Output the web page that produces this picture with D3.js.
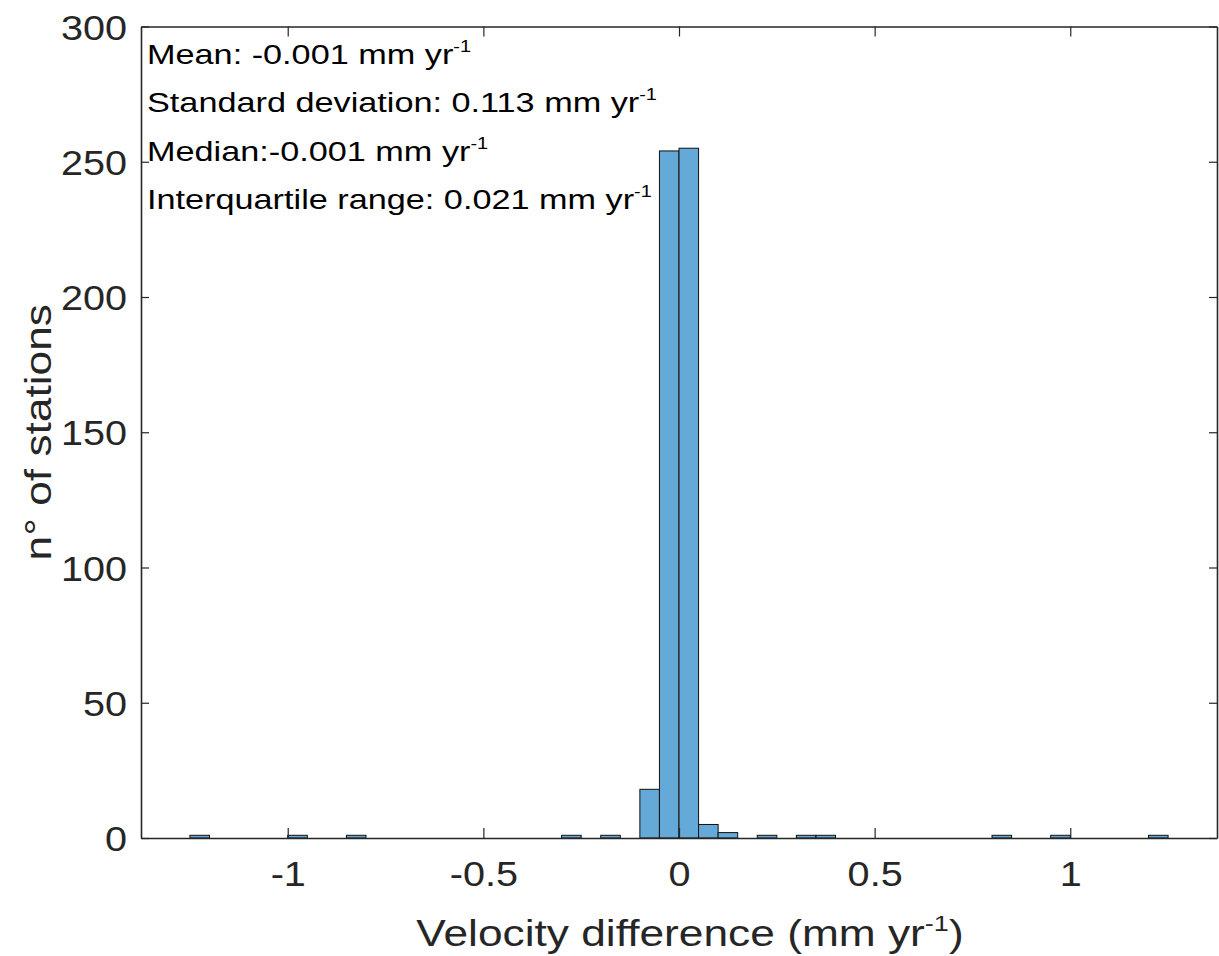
<!DOCTYPE html>
<html>
<head>
<meta charset="utf-8">
<script src="https://cdn.jsdelivr.net/npm/d3@7"></script>
<style>
  html, body { margin: 0; padding: 0; background: #ffffff; }
  svg { display: block; }
  text { font-family: "Liberation Sans", Arial, Helvetica, sans-serif; }
</style>
</head>
<body>
<svg id="chart" width="1219" height="956"></svg>
<script>
// ---- Data ----
const binLeftEdges = [-1.25,-1.2,-1.15,-1.1,-1.05,-1.0,-0.95,-0.9,-0.85,-0.8,
  -0.75,-0.7,-0.65,-0.6,-0.55,-0.5,-0.45,-0.4,-0.35,-0.3,
  -0.25,-0.2,-0.15,-0.1,-0.05,0.0,0.05,0.1,0.15,0.2,
  0.25,0.3,0.35,0.4,0.45,0.5,0.55,0.6,0.65,0.7,
  0.75,0.8,0.85,0.9,0.95,1.0,1.05,1.1,1.15,1.2];
const binWidth = 0.05;
const binCounts = [1,0,0,0,0,1,0,0,1,0,
  0,0,0,0,0,0,0,0,0,1,
  0,1,0,18,254,255,5,2,0,1,
  0,1,1,0,0,0,0,0,0,0,
  0,1,0,0,1,0,0,0,0,1];
const xTicks = [-1, -0.5, 0, 0.5, 1];
const xTickLabels = ["-1", "-0.5", "0", "0.5", "1"];
const yTicks = [0, 50, 100, 150, 200, 250, 300];
const xDomain = [-1.375, 1.375];
const yDomain = [0, 300];
const statLines = [
  {label: "Mean: -0.001 mm yr", sup: "-1"},
  {label: "Standard deviation: 0.113 mm yr", sup: "-1"},
  {label: "Median:-0.001 mm yr", sup: "-1"},
  {label: "Interquartile range: 0.021 mm yr", sup: "-1"}
];
const xLabel = "Velocity difference (mm yr";
const xLabelSup = "-1";
const xLabelEnd = ")";
const yLabel = "n° of stations";

// ---- Layout ----
const svg = d3.select("#chart");
const pLeft = 141, pRight = 1217, pTop = 26.5, pBottom = 838;
const axisColor = "#262626";
const tickFont = 36, tickStretch = 1.1;
const labelFont = 36, labelStretch = 1.23;
const annFont = 27.5, annStretch = 1.245;

const x = d3.scaleLinear().domain(xDomain).range([pLeft, pRight]);
const y = d3.scaleLinear().domain(yDomain).range([pBottom, pTop]);

const bins = binLeftEdges.map((e, i) => ({x0: e, x1: e + binWidth, n: binCounts[i]}));

// bars
svg.append("g").selectAll("rect").data(bins).join("rect")
  .attr("x", d => x(d.x0))
  .attr("width", d => x(d.x1) - x(d.x0))
  .attr("y", d => y(d.n))
  .attr("height", d => y(0) - y(d.n))
  .attr("fill", "#64a9d7")
  .attr("stroke", "#111")
  .attr("stroke-width", 1);

// axes (MATLAB-style box with inward ticks)
const xAxisB = d3.axisBottom(x).tickValues(xTicks).tickFormat((d, i) => xTickLabels[i])
  .tickSizeInner(-10).tickSizeOuter(0).tickPadding(22);
const gxb = svg.append("g").attr("transform", `translate(0,${pBottom})`).call(xAxisB);
const xAxisT = d3.axisTop(x).tickValues(xTicks).tickFormat("").tickSizeInner(-10).tickSizeOuter(0);
const gxt = svg.append("g").attr("transform", `translate(0,${pTop})`).call(xAxisT);
const yAxisL = d3.axisLeft(y).tickValues(yTicks).tickFormat(d3.format("d"))
  .tickSizeInner(-8).tickSizeOuter(0).tickPadding(14);
const gyl = svg.append("g").attr("transform", `translate(${pLeft},0)`).call(yAxisL);
const yAxisR = d3.axisRight(y).tickValues(yTicks).tickFormat("").tickSizeInner(-8).tickSizeOuter(0);
const gyr = svg.append("g").attr("transform", `translate(${pRight},0)`).call(yAxisR);

[gxb, gxt, gyl, gyr].forEach(g => {
  g.selectAll("path.domain").attr("stroke", axisColor).attr("stroke-width", 1.6);
  g.selectAll(".tick line").attr("stroke", axisColor).attr("stroke-width", 1.2);
  g.selectAll(".tick text").attr("fill", axisColor).attr("font-size", tickFont)
    .attr("font-family", "'Liberation Sans', Arial, sans-serif")
    .attr("transform", `scale(${tickStretch},1)`);
});
gxb.selectAll(".tick text").attr("dy", "0.71em");
gyl.selectAll(".tick text").attr("dy", "0.35em").attr("x", -14 / tickStretch);

// axis labels
const xl = svg.append("text")
  .attr("transform", `translate(690,946) scale(${labelStretch},1)`)
  .attr("text-anchor", "middle").attr("fill", axisColor).attr("font-size", labelFont);
xl.append("tspan").text(xLabel);
xl.append("tspan").attr("font-size", 22).attr("dy", -15).text(xLabelSup);
xl.append("tspan").attr("dy", 15).text(xLabelEnd);

svg.append("text")
  .attr("transform", `translate(51,${(pTop + pBottom) / 2}) rotate(-90) scale(${labelStretch},1)`)
  .attr("text-anchor", "middle").attr("fill", axisColor).attr("font-size", labelFont)
  .text(yLabel);

// statistics annotation
statLines.forEach((s, i) => {
  const t = svg.append("text")
    .attr("transform", `translate(147,${64 + i * 48.3}) scale(${annStretch},1)`)
    .attr("fill", "#000").attr("font-size", annFont);
  t.append("tspan").text(s.label);
  t.append("tspan").attr("font-size", 16).attr("dy", -12).text(s.sup);
});
</script>
</body>
</html>
